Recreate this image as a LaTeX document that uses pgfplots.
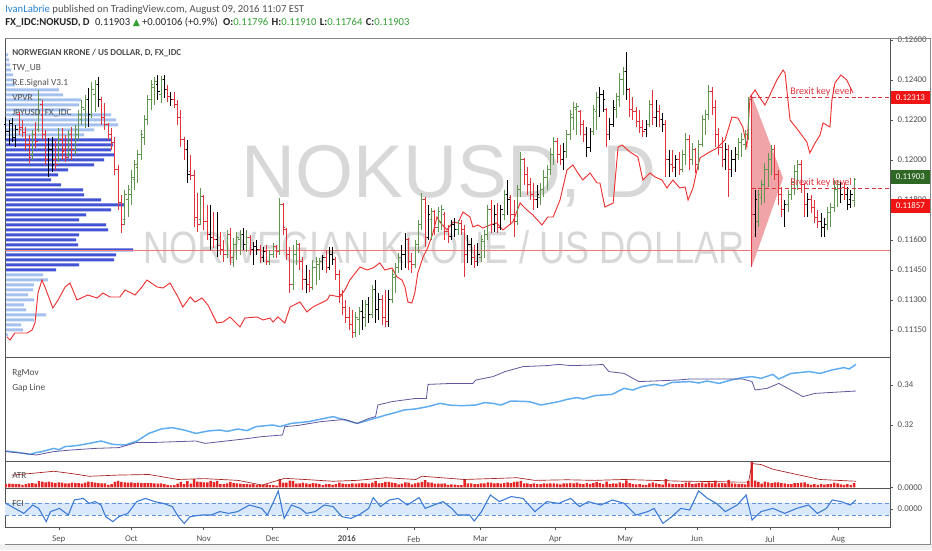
\documentclass[border=0pt]{standalone}
\usepackage{pgfplots}
\pgfplotsset{compat=1.18}
\usepackage{pgfplotstable}
\usepackage{fontspec}
\setmainfont{Carlito}
\newfontfamily\wmfont{Liberation Sans}
\newfontfamily\symfont{DejaVu Sans}

\definecolor{tvgreen}{RGB}{98,150,80}
\definecolor{tvred}{RGB}{224,52,60}
\definecolor{jpyred}{RGB}{238,50,50}
\definecolor{vplight}{RGB}{164,193,240}
\definecolor{vpdark}{RGB}{66,84,212}
\definecolor{pocred}{RGB}{240,120,120}
\definecolor{rgblue}{RGB}{95,172,240}
\definecolor{rgpurple}{RGB}{96,88,158}
\definecolor{atrred}{RGB}{228,38,38}
\definecolor{atrline}{RGB}{168,30,30}
\definecolor{fciblue}{RGB}{58,122,214}
\definecolor{fcifill}{RGB}{218,232,251}
\definecolor{axgray}{RGB}{85,85,85}
\definecolor{txtgray}{RGB}{80,80,80}
\definecolor{valgreen}{RGB}{52,160,52}
\definecolor{boxgreen}{RGB}{46,104,36}
\definecolor{boxred}{RGB}{240,20,20}
\definecolor{linkblue}{RGB}{40,130,210}
\definecolor{wmgray}{RGB}{216,216,216}

% open tick to the left, close tick to the right
\pgfdeclareplotmark{otick}{\pgfpathmoveto{\pgfqpoint{-\pgfplotmarksize}{0pt}}\pgfpathlineto{\pgfqpoint{0pt}{0pt}}\pgfusepathqstroke}
\pgfdeclareplotmark{ctick}{\pgfpathmoveto{\pgfqpoint{0pt}{0pt}}\pgfpathlineto{\pgfqpoint{\pgfplotmarksize}{0pt}}\pgfusepathqstroke}

\newcommand\tl{\fontsize{6.6}{7}\selectfont}

\pgfplotsset{panel/.style={anchor=south west, scale only axis, width=663.75pt,
    xmin=-0.3, xmax=267.9, scaled y ticks=false,
    axis line style={axgray, line width=0.5pt},
    tick style={axgray, line width=0.4pt}, tick align=outside, major tick length=2.2pt,
    ytick pos=right, yticklabel pos=right,
    ticklabel style={font=\tl, text=txtgray},
    xtick=\empty, clip mode=individual}}

% one colour group of OHLC bars: #1 code, #2 colour
\newcommand\ohlcplots[2]{%
  \addplot[only marks, mark=ctick, mark size=0pt, color=#2,
    error bars/.cd, y dir=minus, y explicit, error mark=none,
    error bar style={line width=0.75pt}]
    table[x=i, y=h, y error expr=\thisrow{h}-\thisrow{l},
      restrict expr to domain={\thisrow{k}}{#1:#1}] {\ohlc};
  \addplot[only marks, mark=otick, mark size=1.6pt, color=#2, mark options={line width=0.75pt}]
    table[x=i, y=o, restrict expr to domain={\thisrow{k}}{#1:#1}] {\ohlc};
  \addplot[only marks, mark=ctick, mark size=1.6pt, color=#2, mark options={line width=0.75pt}]
    table[x=i, y=c, restrict expr to domain={\thisrow{k}}{#1:#1}] {\ohlc};
}

% NOKUSD daily bars, prices in 1e-5 USD; k: 0 black, 1 green, 2 red
\pgfplotstableread{
i o h l c k
0 12175 12215 12100 12140 0
1 12140 12200 12075 12180 0
2 12180 12210 12090 12110 0
3 12110 12175 12065 12150 0
4 12225 12240 12125 12150 2
5 12160 12200 12115 12135 2
6 12135 12165 12050 12075 2
7 12075 12125 11985 12010 2
8 12025 12150 12000 12125 1
9 12125 12190 12060 12090 2
10 12150 12350 12140 12300 1
11 12275 12300 12100 12125 2
12 12125 12150 11975 12000 2
13 12000 12110 11915 12050 0
14 12050 12115 11940 11975 0
15 12000 12100 11950 11975 2
16 12000 12160 11990 12100 1
17 12100 12160 12000 12040 2
18 12050 12125 11990 12010 2
19 12025 12150 12010 12125 1
20 12125 12165 12000 12050 2
21 12050 12175 12025 12150 1
22 12125 12250 12100 12225 1
23 12200 12300 12175 12260 1
24 12250 12325 12160 12300 1
25 12300 12360 12165 12225 0
26 12225 12390 12210 12350 1
27 12325 12400 12240 12375 1
28 12375 12415 12265 12300 0
29 12300 12315 12175 12210 2
30 12210 12285 12150 12175 2
31 12175 12185 12100 12125 2
32 12125 12160 12050 12085 2
33 12085 12115 11925 11950 2
34 11950 11975 11750 11785 2
35 11785 11825 11635 11675 2
36 11700 11850 11675 11825 1
37 11800 11875 11715 11850 1
38 11825 11950 11775 11910 1
39 11900 12000 11850 11975 1
40 11960 12050 11885 12025 1
41 12025 12150 12000 12125 1
42 12110 12225 12075 12200 1
43 12200 12325 12175 12300 1
44 12300 12400 12250 12375 1
45 12360 12415 12275 12390 1
46 12375 12425 12300 12340 0
47 12325 12420 12285 12400 1
48 12400 12425 12310 12350 0
49 12350 12375 12290 12315 2
50 12315 12340 12270 12300 0
51 12300 12340 12260 12275 2
52 12275 12300 12175 12210 2
53 12210 12250 12065 12100 2
54 12100 12115 12000 12050 2
55 12050 12100 11885 11925 0
56 11940 12025 11900 11920 2
57 11920 11950 11665 11710 2
58 11710 11835 11640 11675 2
59 11700 11860 11675 11815 1
60 11815 11825 11650 11690 2
61 11690 11775 11600 11625 2
62 11625 11775 11550 11610 0
63 11610 11740 11560 11600 2
64 11600 11740 11515 11570 0
65 11570 11640 11525 11550 2
66 11550 11600 11490 11525 2
67 11525 11650 11510 11625 1
68 11625 11660 11475 11510 2
69 11510 11610 11465 11575 1
70 11575 11640 11500 11610 1
71 11600 11650 11525 11625 1
72 11625 11660 11550 11575 0
73 11575 11650 11540 11610 1
74 11610 11625 11525 11550 2
75 11550 11590 11475 11565 0
76 11565 11600 11525 11550 0
77 11550 11575 11485 11510 2
78 11510 11565 11490 11540 0
79 11540 11575 11475 11490 2
80 11490 11550 11475 11525 1
81 11525 11585 11510 11565 1
82 11565 11575 11510 11540 2
83 11540 11810 11525 11775 1
84 11775 11785 11625 11660 2
85 11650 11660 11500 11525 2
86 11525 11565 11335 11375 2
87 11375 11575 11350 11525 1
88 11525 11600 11475 11575 1
89 11575 11585 11450 11490 2
90 11490 11515 11350 11400 2
91 11400 11475 11335 11375 0
92 11375 11450 11340 11360 2
93 11360 11500 11350 11460 1
94 11460 11515 11375 11490 1
95 11475 11510 11400 11490 1
96 11490 11525 11450 11510 0
97 11510 11550 11435 11460 2
98 11460 11565 11450 11525 0
99 11525 11565 11475 11500 0
100 11500 11515 11400 11425 2
101 11425 11450 11285 11325 2
102 11325 11350 11225 11260 2
103 11260 11300 11185 11210 2
104 11210 11265 11150 11175 2
105 11175 11250 11110 11135 2
106 11135 11240 11115 11210 1
107 11200 11265 11125 11240 1
108 11240 11300 11150 11210 0
109 11210 11300 11165 11275 1
110 11275 11315 11185 11225 0
111 11225 11375 11210 11350 1
112 11350 11400 11185 11250 0
113 11250 11335 11200 11300 0
114 11300 11325 11175 11210 2
115 11210 11350 11165 11190 2
116 11190 11350 11165 11300 0
117 11300 11450 11285 11425 1
118 11410 11485 11335 11460 1
119 11460 11535 11435 11510 1
120 11510 11575 11450 11525 0
121 11525 11635 11460 11600 0
122 11600 11610 11450 11490 2
123 11490 11535 11435 11475 2
124 11475 11600 11460 11575 1
125 11575 11700 11535 11675 1
126 11675 11835 11650 11800 1
127 11800 11815 11565 11610 2
128 11610 11775 11600 11725 0
129 11700 11760 11600 11740 1
130 11740 11750 11625 11660 2
131 11660 11765 11640 11740 1
132 11690 11775 11650 11750 1
133 11725 11740 11600 11640 2
134 11640 11675 11585 11615 2
135 11615 11700 11600 11675 0
136 11675 11710 11615 11650 0
137 11650 11700 11625 11680 1
138 11680 11700 11625 11650 2
139 11650 11675 11415 11525 2
140 11525 11625 11485 11575 0
141 11575 11610 11475 11510 0
142 11510 11575 11460 11490 2
143 11490 11585 11470 11525 0
144 11510 11625 11490 11600 1
145 11590 11650 11510 11625 1
146 11625 11775 11600 11750 1
147 11750 11800 11635 11675 2
148 11675 11775 11640 11725 0
149 11725 11785 11635 11660 2
150 11660 11775 11650 11750 0
151 11725 11850 11700 11825 1
152 11825 11900 11725 11800 0
153 11810 11825 11675 11725 2
154 11725 11800 11615 11690 2
155 11690 11875 11675 11850 1
156 11850 12040 11815 12000 1
157 12000 12010 11875 11925 2
158 11925 11965 11825 11875 2
159 11875 11910 11800 11825 2
160 11825 11885 11750 11800 2
161 11800 11875 11760 11825 0
162 11810 11885 11775 11850 1
163 11850 11950 11815 11910 1
164 11910 11975 11850 11950 1
165 11950 12060 11925 12025 1
166 12025 12115 11975 12090 1
167 12090 12110 11985 12025 2
168 12025 12075 11975 12000 2
169 12000 12085 11950 12040 0
170 12040 12150 12010 12125 1
171 12125 12250 12100 12225 1
172 12210 12290 12150 12260 1
173 12250 12285 12125 12265 1
174 12240 12250 12125 12175 2
175 12175 12200 12090 12125 2
176 12125 12165 12015 12060 0
177 12060 12160 12040 12140 0
178 12140 12275 12125 12250 1
179 12240 12340 12150 12310 1
180 12310 12365 12215 12325 0
181 12325 12350 12240 12300 0
182 12250 12260 12065 12125 2
183 12125 12210 12100 12175 0
184 12175 12300 12165 12260 0
185 12250 12335 12210 12315 1
186 12300 12435 12265 12400 1
187 12400 12465 12325 12440 1
188 12440 12540 12300 12350 0
189 12350 12360 12215 12250 2
190 12250 12315 12200 12240 2
191 12240 12265 12165 12190 2
192 12190 12250 12135 12160 2
193 12160 12200 12115 12140 2
194 12150 12200 12115 12175 0
195 12175 12300 12165 12275 1
196 12275 12350 12175 12210 2
197 12210 12300 12165 12240 0
198 12240 12275 12165 12200 2
199 12200 12235 12140 12175 0
200 12175 12200 11915 12000 2
201 12000 12050 11915 11975 0
202 11975 12050 11940 11960 2
203 11960 12025 11915 12000 0
204 12000 12040 11925 11950 2
205 11950 12050 11940 12025 1
206 12025 12135 11975 12100 1
207 12100 12125 11950 12000 2
208 12000 12085 11975 12050 1
209 12050 12060 11935 11975 2
210 11975 12100 11950 12075 1
211 12075 12225 12065 12200 1
212 12200 12250 12125 12225 1
213 12225 12375 12200 12340 1
214 12340 12365 12225 12260 2
215 12260 12300 12065 12125 2
216 12125 12160 12025 12060 2
217 12060 12115 11965 12000 2
218 12000 12085 11950 12050 0
219 12050 12075 11815 11950 2
220 11950 12050 11915 12000 0
221 12000 12065 11940 12025 0
222 12025 12110 12000 12085 1
223 12085 12135 12015 12100 1
224 12075 12150 12050 12125 1
225 12125 12315 12100 12300 1
226 12300 12325 11465 11725 2
227 11725 11850 11615 11800 0
228 11690 11850 11665 11825 1
229 11810 11900 11775 11875 1
230 11875 11985 11785 11950 1
231 11950 12035 11865 12000 1
232 12000 12075 11925 12050 1
233 12050 12075 11900 11925 2
234 11925 11950 11775 11825 2
235 11825 11865 11715 11750 2
236 11750 11800 11665 11775 0
237 11775 11850 11740 11825 1
238 11825 11910 11800 11885 1
239 11885 11975 11825 11940 1
240 11940 12000 11850 11975 1
241 11975 12000 11835 11875 2
242 11875 11885 11715 11775 2
243 11775 11835 11715 11800 0
244 11800 11825 11735 11760 2
245 11760 11800 11685 11710 2
246 11710 11750 11660 11690 2
247 11690 11735 11615 11660 0
248 11660 11710 11615 11675 0
249 11675 11765 11650 11735 1
250 11735 11785 11665 11760 1
251 11760 11900 11740 11860 1
252 11850 11900 11765 11875 1
253 11875 11890 11785 11825 0
254 11860 11885 11800 11825 2
255 11825 11865 11750 11775 0
256 11800 11850 11760 11825 0
257 11796 11910 11764 11903 1
}\ohlc

% volume profile rows: volume (arbitrary units), price level
\pgfplotstableread{
v p
3 12525
4 12500
5 12475
6 12450
8 12425
8 12400
10 12375
54 12350
58 12325
76 12300
74 12275
63 12250
106 12225
111 12200
113 12175
89 12150
79 12125
38 11425
43 11400
29 11375
28 11350
23 11325
29 11300
19 11275
21 11250
41 11225
29 11200
16 11175
18 11150
3 11125
}\vplight
\pgfplotstableread{
v p
106 12100
108 12075
106 12050
109 12025
99 12000
89 11975
63 11950
53 11925
46 11900
56 11875
78 11850
79 11825
96 11800
119 11775
106 11750
81 11725
74 11700
101 11675
103 11650
74 11625
71 11600
73 11575
128 11550
111 11525
109 11500
74 11475
51 11450
}\vpdark

\begin{document}
\begin{tikzpicture}
\useasboundingbox (0,0) rectangle (699pt,412.5pt);
\fill[white] (0,0) rectangle (699pt,412.5pt);
\fill[black!6] (0,0) rectangle (699pt,4.5pt);

% watermark
\begin{scope}[x=0.75pt,y=-0.75pt,yshift=412.5pt]
\node[anchor=base, inner sep=0, text=wmgray, font=\wmfont\fontsize{56}{60}\selectfont] at (449,198) {NOKUSD, D};
\node[anchor=base, inner sep=0, text=wmgray, font=\wmfont\fontsize{34}{36}\selectfont] at (444,264) {\scalebox{0.8}[1]{NORWEGIAN KRONE / US DOLLAR}};
\end{scope}

% volume profile
\begin{axis}[at={(3.75pt,144.75pt)}, anchor=south west, scale only axis,
    width=663.75pt, height=239.25pt, xmin=0, xmax=885, ymin=11015, ymax=12610, hide axis]
\addplot[xbar, bar width=15, fill=vplight, draw=none] table[x=v, y=p] {\vplight};
\addplot[xbar, bar width=15, fill=vpdark, draw=none] table[x=v, y=p] {\vpdark};
\end{axis}

% price panel
\begin{axis}[panel, at={(3.75pt,144.75pt)}, height=239.25pt,
    ymin=11015, ymax=12610,
    ytick={11150,11300,11450,11600,11800,12000,12200,12400,12600},
    yticklabels={0.11150,0.11300,0.11450,0.11600,0.11800,0.12000,0.12200,0.12400,0.12600}]
\addplot[pocred, line width=0.5pt] coordinates {(-0.3,11550) (267.9,11550)};
\addplot[fill=tvred!45, draw=none] coordinates {(226,12325) (235.5,11910) (226,11465)};
\addplot[jpyred, line width=0.7pt] coordinates {
(0.3,11115)(1.2,11100)(2.7,11135)(6.4,11135)(7.9,11150)(8.8,11185)(9.7,11335)(10.9,11400)
(11.8,11365)(14.2,11260)(15.8,11300)(17.9,11365)(19.4,11385)(21.5,11300)(24.8,11325)(27.6,11310)
(29.4,11335)(31.5,11315)(34.5,11315)(36.1,11350)(39.1,11325)(41.2,11365)(42.7,11400)(45.8,11365)
(47.6,11360)(49.7,11385)(51.8,11325)(53.6,11265)(55.8,11315)(57.3,11290)(59.4,11310)(61.2,11275)
(63.9,11185)(65.8,11190)(67.9,11215)(70.9,11165)(72.4,11210)(76.1,11215)(77.9,11200)(80,11210)
(80.9,11190)(82.4,11215)(84.5,11185)(86.1,11265)(89.1,11290)(91.2,11240)(93,11265)(97.3,11300)
(98.2,11325)(101.2,11315)(102.7,11350)(104.2,11400)(107.3,11465)(109.4,11450)(111.2,11460)(113.3,11485)
(114.8,11450)(117,11460)(118.5,11415)(120,11400)(120.9,11365)(121.8,11290)(123,11285)(123.9,11335)
(124.8,11435)(126.4,11515)(127.9,11565)(129.4,11635)(130.6,11715)(131.5,11690)(133.6,11650)(135.5,11690)
(137,11685)(138.5,11740)(140.6,11715)(141.5,11665)(143,11675)(144.5,11660)(146.7,11675)(148.8,11685)
(150.6,11650)(153.6,11690)(155.8,11785)(157.9,11750)(159.7,11725)(162.4,11675)(164.2,11715)(165.8,11715)
(167.9,11800)(170,11950)(171.8,11975)(173.3,11935)(174.8,11900)(177,11935)(179.1,11885)(180,11885)
(181.5,11765)(184,11785)(185.5,12065)(186.7,12075)(189.1,12040)(191.5,12015)(193,11900)(195.2,11935)
(196.7,11915)(198.8,11900)(200.3,11860)(202.1,11900)(204.2,11860)(205.8,11865)(206.7,11800)(208.2,11860)
(209.4,11950)(210.3,12010)(212.7,12035)(215.5,12060)(217.9,12100)(220,12215)(221.8,12210)(223.3,12165)
(224.5,12065)(225.5,12315)(227,12350)(228.5,12310)(230,12275)(231.5,12325)(233.6,12400)(235.5,12450)
(236.1,12435)(237.6,12200)(240,12150)(242.7,12090)(243.6,12035)(245.2,12085)(246.7,12125)(247.6,12185)
(249.7,12165)(250.3,12300)(251.2,12385)(253,12425)(254.8,12400)(256.7,12335)};
\ohlcplots{0}{black}
\ohlcplots{1}{tvgreen}
\ohlcplots{2}{tvred}
\addplot[tvred, line width=0.8pt] coordinates {(226,12325) (226,11465)};
\addplot[tvred, densely dashed, line width=0.6pt] coordinates {(226,12313) (267.9,12313)};
\addplot[tvred, densely dashed, line width=0.6pt] coordinates {(226,11857) (267.9,11857)};
\node[anchor=south, inner sep=0.8pt, text=tvred, font=\fontsize{7.6}{8}\selectfont] at (axis cs:247,12313) {Brexit key level};
\node[anchor=south, inner sep=0.8pt, text=tvred, font=\fontsize{7.6}{8}\selectfont] at (axis cs:247,11857) {Brexit key level};
\node[anchor=west, fill=boxred, text=white, font=\tl, inner sep=0pt, minimum height=10pt, minimum width=29.5pt, xshift=0.3pt] at (axis cs:267.9,12313) {0.12313};
\node[anchor=west, fill=boxgreen, text=white, font=\tl, inner sep=0pt, minimum height=10pt, minimum width=29.5pt, xshift=0.3pt] at (axis cs:267.9,11915) {0.11903};
\node[anchor=west, fill=boxred, text=white, font=\tl, inner sep=0pt, minimum height=10.5pt, minimum width=29.5pt, xshift=0.3pt] at (axis cs:267.9,11770) {0.11857};
\end{axis}

% RgMov / Gap Line
\begin{axis}[panel, at={(3.75pt,66.75pt)}, height=78pt,
    ymin=0.302, ymax=0.354, ytick={0.32,0.34}, yticklabels={0.32,0.34}]
\addplot[rgblue, line width=1.1pt] coordinates {
(0,0.3070)(3.6,0.3063)(7.3,0.3053)(9,0.3062)(10.9,0.3067)(14.5,0.3083)(16,0.3076)(17.9,0.3092)
(21.5,0.3097)(25.2,0.3108)(28.8,0.3120)(32.4,0.3103)(36.1,0.3100)(39.7,0.3120)(43.3,0.3158)(47,0.3180)
(50.3,0.3187)(53.9,0.3175)(57.6,0.3158)(61.2,0.3170)(64.8,0.3175)(67,0.3168)(70.3,0.3180)(73,0.3172)
(75.8,0.3192)(80.9,0.3200)(83,0.3192)(86.4,0.3208)(91.8,0.3217)(95,0.3228)(99.1,0.3242)(102.7,0.3225)
(106.4,0.3208)(110,0.3225)(115.2,0.3250)(118,0.3262)(120.6,0.3275)(124,0.3280)(127.9,0.3292)(131.5,0.3308)
(135,0.3298)(138.8,0.3297)(142.4,0.3300)(145,0.3312)(147.6,0.3308)(150,0.3300)(153,0.3320)(158.5,0.3317)
(162.1,0.3300)(167.6,0.3317)(170,0.3328)(173,0.3337)(175,0.3330)(178.5,0.3347)(183.6,0.3353)(187.3,0.3383)
(190,0.3375)(192.7,0.3392)(196.4,0.3403)(199,0.3396)(201.8,0.3413)(207.3,0.3417)(210,0.3410)(212.4,0.3420)
(216.1,0.3408)(219.7,0.3425)(223.3,0.3437)(226.1,0.3442)(228.8,0.3433)(232.4,0.3453)(234.2,0.3430)(237.9,0.3458)
(240.5,0.3462)(243.3,0.3467)(246.7,0.3458)(250.3,0.3475)(253.9,0.3487)(255.5,0.3480)(257.6,0.3503)};
\addplot[rgpurple, line width=0.6pt] coordinates {
(0,0.3067)(5.5,0.3058)(9.1,0.3050)(14.5,0.3067)(19.7,0.3075)(27,0.3083)(34.2,0.3087)(39.7,0.3113)
(45.2,0.3113)(52.1,0.3117)(57.6,0.3120)(60.3,0.3108)(66.7,0.3120)(72.1,0.3130)(77.6,0.3142)(83.8,0.3150)
(84.5,0.3192)(88.2,0.3197)(95.5,0.3217)(102.7,0.3228)(106.4,0.3208)(110,0.3233)(112,0.3242)(112.7,0.3300)
(117,0.3317)(124.2,0.3333)(127.4,0.3333)(127.9,0.3403)(135.2,0.3408)(141.5,0.3408)(142.4,0.3425)(147.6,0.3442)
(151.2,0.3467)(156.7,0.3492)(163.9,0.3497)(167.6,0.3503)(171.2,0.3497)(178.5,0.3500)(180.9,0.3503)(182.7,0.3467)
(187.3,0.3458)(191.8,0.3417)(203.6,0.3425)(207.3,0.3430)(223.3,0.3430)(226.1,0.3417)(227,0.3375)(230.6,0.3383)
(234.2,0.3408)(237,0.3383)(241.5,0.3342)(245.2,0.3358)(250.3,0.3363)(257.6,0.3370)};
\end{axis}

% ATR
\begin{axis}[panel, at={(3.75pt,46.5pt)}, height=20.25pt,
    ymin=-20, ymax=900, ytick={0}, yticklabels={0.0000}]
\addplot[ybar, bar width=0.75, fill=atrred, draw=none] table[x=i, y expr=\thisrow{h}-\thisrow{l}] {\ohlc};
\addplot[atrline, line width=0.5pt] coordinates {
(1.8,420)(8,480)(14.5,550)(20,470)(25.2,380)(34,420)(43.3,440)(52.1,270)(60,300)(70.3,240)(77.6,80)
(84.5,310)(92,260)(99.1,210)(106.4,240)(115.2,330)(124.2,270)(126.1,380)(132,330)(138.8,270)(147,300)
(154.8,330)(160.3,240)(170,260)(178.5,240)(187.3,270)(196,240)(205.5,210)(214,200)(221.5,180)(225,180)
(226.1,810)(228.8,780)(232.4,620)(239.7,440)(246.7,270)(252,240)(257.6,210)};
\end{axis}

% FCI
\begin{axis}[panel, at={(3.75pt,17.25pt)}, height=29.25pt,
    ymin=-0.9, ymax=1.05, ytick={0}, yticklabels={0.0000},
    xtick={16,38,59.9,80.8,103.3,123.6,143.8,166.5,187.6,209.4,231.5,252.2},
    xticklabels={Sep,Oct,Nov,Dec,\textbf{2016},Feb,Mar,Apr,May,Jun,Jul,Aug},
    xtick pos=left, xticklabel style={yshift=-1pt}]
\addplot[fill=fcifill, draw=none] coordinates {(-0.3,-0.3) (267.9,-0.3) (267.9,0.3) (-0.3,0.3)};
\addplot[fciblue!80, densely dashed, line width=0.5pt] coordinates {(-0.3,0.3) (267.9,0.3)};
\addplot[fciblue!80, densely dashed, line width=0.5pt] coordinates {(-0.3,-0.3) (267.9,-0.3)};
\addplot[fciblue, line width=0.8pt] coordinates {
(0,0.28)(2.7,0.03)(5.4,-0.22)(8.1,0.20)(9.9,0.03)(12.2,-0.63)(13.5,-0.13)(16.2,0.03)(18.9,-0.30)(20.7,0.45)
(23.4,0.53)(25.2,0.28)(27,0.37)(28.8,0.20)(30.2,-0.38)(32.4,-0.63)(34.2,-0.38)(36.9,-0.22)(39.6,0.37)(42.3,0.53)
(45,0.37)(47.7,0.28)(50.4,0.12)(52.2,-0.38)(54,-0.72)(55.8,-0.38)(59.4,-0.30)(62.2,-0.30)(64.8,-0.13)(67.5,-0.22)
(70.2,-0.13)(73.8,0.20)(77.5,0.03)(79.2,-0.30)(81.1,0.37)(82.5,0.90)(84.3,-0.47)(86.5,0.20)(89.2,0.03)(91,-0.22)
(93.7,-0.13)(96.4,0.20)(99.1,0.12)(101.8,-0.38)(104.5,-0.47)(107.2,-0.27)(109.9,0.03)(111.3,0.57)(113.5,0.12)(116.2,0.45)
(118.9,0.53)(121.6,0.20)(125.2,0.57)(127,0.03)(129.7,0.20)(132.4,0.37)(135.1,0.03)(136.9,-0.30)(140.5,-0.30)(141.9,-0.60)
(144.1,-0.13)(146.8,0.70)(149.5,0.37)(153.1,0.62)(156.7,0.53)(160.3,-0.13)(163.9,0.37)(167.5,0.28)(171.1,0.53)(173.8,0.12)
(176.5,0.37)(180.2,0.20)(183.8,0.45)(187.4,0.28)(190.9,-0.30)(194.5,-0.13)(196.4,0.03)(199.1,-0.72)(201.8,-0.38)(204.5,0.03)
(207.2,-0.05)(209.9,0.90)(212.6,0.53)(215.3,0.28)(218,-0.13)(221.6,0.20)(224.3,0.70)(226.1,-0.55)(228.8,-0.13)(232.4,0.03)
(236,-0.22)(239.6,0.03)(243.2,0.20)(245.9,-0.22)(248.6,0.03)(250.4,0.45)(253.1,0.37)(255.8,0.20)(257.6,0.45)};
\end{axis}

% header, legends, frame
\begin{scope}[x=0.75pt,y=-0.75pt,yshift=412.5pt]
\draw[axgray!70, line width=0.5pt] (5,38) -- (930,38) -- (930,544) -- (5,544);
\node[anchor=base west, inner sep=0, font=\fontsize{8}{9}\selectfont] at (5,13)
  {\textcolor{linkblue}{IvanLabrie} \textcolor{txtgray}{published on TradingView.com, August 09, 2016 11:07 EST}};
\node[anchor=base west, inner sep=0, font=\fontsize{8}{9}\selectfont, text=black!85] at (5,26)
  {\textbf{FX\_IDC:NOKUSD, D}\hspace{4pt}0.11903\hspace{2pt}\textcolor{valgreen}{\symfont\fontsize{7}{7}\selectfont ▲}\hspace{1.5pt}+0.00106 (+0.9\%)\hspace{4pt}\textbf{O:}\textcolor{valgreen}{0.11796}\hspace{2.5pt}\textbf{H:}\textcolor{valgreen}{0.11910}\hspace{2.5pt}\textbf{L:}\textcolor{valgreen}{0.11764}\hspace{2.5pt}\textbf{C:}\textcolor{valgreen}{0.11903}};
\begin{scope}[every node/.style={anchor=base west, inner sep=0, text=txtgray, font=\fontsize{7}{8}\selectfont}]
\node[font=\bfseries\fontsize{6.8}{8}\selectfont, text=black!70] at (12,56) {NORWEGIAN KRONE / US DOLLAR, D, FX\_IDC};
\node at (12,71) {TW\_UB};
\node at (12,86) {R.E.Signal V3.1};
\node at (12,101) {VPVR};
\node at (12,116) {JPYUSD, FX\_IDC};
\node at (12,376) {RgMov};
\node at (12,391) {Gap Line};
\node at (12,479) {ATR};
\node at (12,506) {FCI};
\end{scope}
\end{scope}
\end{tikzpicture}
\end{document}
